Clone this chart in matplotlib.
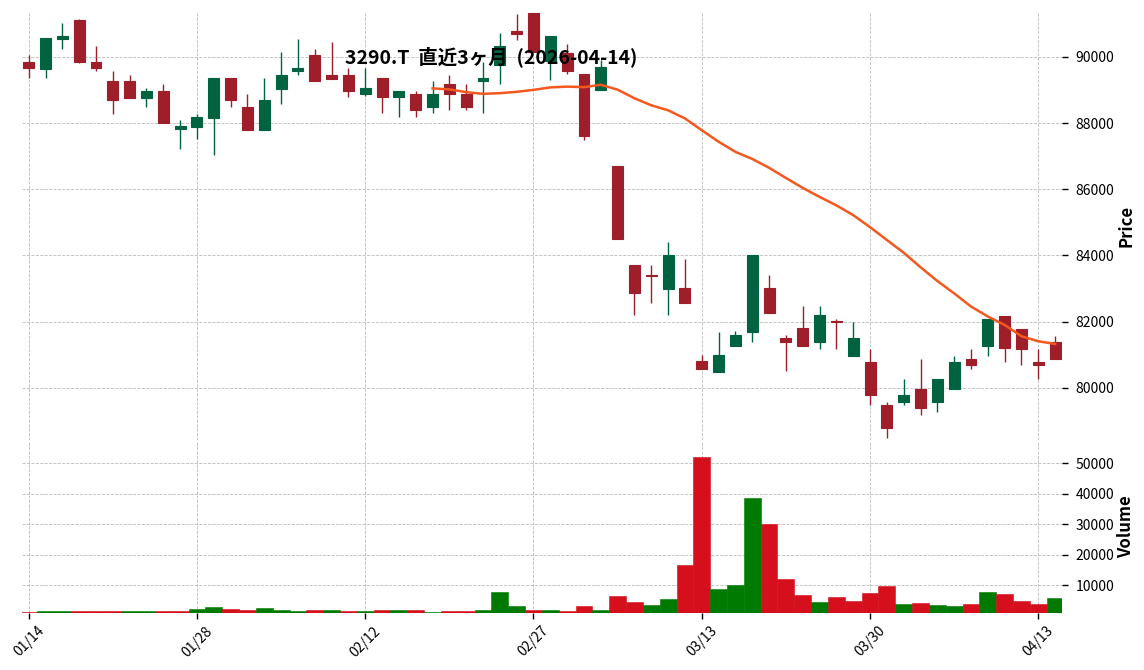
import numpy as np
import pandas as pd
import matplotlib
matplotlib.use('Agg')
import matplotlib.pyplot as plt

plt.rcParams['font.family'] = ['Noto Sans CJK JP', 'DejaVu Sans']

TITLE = '3290.T  直近3ヶ月  (2026-04-14)'
START, END = '2026-01-14', '2026-04-14'
HOLIDAYS = ['2026-02-11', '2026-02-23', '2026-03-20']

opens = [89860, 89650, 90535, 91130, 89860, 89280, 89280, 88770, 88980, 87810,
         87890, 88170, 89370, 88495, 87800, 89040, 89566, 90070, 89465, 89465,
         88869, 89374, 88778, 88889, 88475, 89192, 88889, 89273, 89748, 90798,
         91320, 89889, 90121, 89495, 88990, 86707, 83707, 83400, 82990, 83010,
         80798, 80475, 81263, 81677, 83010, 81495, 81798, 81384, 82010, 80960,
         80788, 79485, 79556, 79970, 79556, 79950, 80879, 81253, 82182, 81788,
         80788, 81394]
highs = [90070, 90560, 91030, 91150, 90333, 89590, 89450, 89060, 89180, 88090,
         88290, 89370, 89370, 88880, 89364, 90150, 90545, 90242, 90444, 89657,
         89657, 89374, 88980, 88980, 89283, 89455, 89182, 89849, 90727, 91303,
         91320, 90626, 90394, 89495, 89900, 86707, 83707, 83697, 84404, 83889,
         80980, 81697, 81707, 84010, 83394, 81586, 82485, 82485, 82091, 82000,
         81172, 79556, 80263, 80869, 80273, 80970, 81172, 82091, 82182, 81788,
         81172, 81566]
lows = [89350, 89350, 90240, 89830, 89566, 88290, 88770, 88485, 87990, 87210,
        87515, 87030, 88485, 87800, 87800, 88575, 89455, 89263, 89343, 88788,
        88808, 88303, 88182, 88182, 88303, 88394, 88394, 88303, 89182, 90525,
        90150, 89313, 89495, 87495, 88990, 84485, 82192, 82576, 82192, 82556,
        80566, 80475, 81263, 81394, 82263, 80495, 81263, 81182, 81182, 80960,
        79475, 78475, 79475, 79182, 79263, 79950, 80576, 80970, 80788, 80687,
        80263, 80859]
closes = [89660, 90560, 90646, 89840, 89657, 88690, 88770, 88980, 87990, 87920,
          88190, 89370, 88690, 87800, 88707, 89465, 89677, 89263, 89343, 88960,
          89071, 88778, 88980, 88384, 88889, 88869, 88475, 89374, 90343, 90697,
          90150, 90626, 89586, 87596, 89707, 84485, 82869, 83390, 84010, 82556,
          80566, 80980, 81586, 84010, 82263, 81384, 81263, 82192, 81990, 81495,
          79768, 78768, 79788, 79374, 80273, 80788, 80677, 82091, 81190, 81160,
          80677, 80859]
volumes = [1250, 1580, 1580, 1580, 1580, 1580, 1580, 1580, 1580, 1580,
           2240, 2900, 2240, 1910, 2570, 1910, 1580, 1910, 1910, 1580,
           1580, 1910, 1910, 1910, 1250, 1580, 1580, 1910, 7800, 3220,
           1910, 1910, 1580, 3220, 1910, 6500, 4540, 3550, 5520, 16670,
           52080, 8800, 10100, 38640, 30110, 12080, 6830, 4430, 6070, 4750,
           7380, 9670, 3770, 4100, 3440, 3110, 3770, 7700, 7050, 4750,
           3770, 5740]
prev_close = 89900
MAV = 25

UP, DOWN = '#006340', '#9e1f2a'
VUP, VDOWN = '#007a00', '#d50f1b'
MA_COLOR = '#f4581e'

dates = pd.bdate_range(START, END)
dates = dates[~dates.isin(pd.to_datetime(HOLIDAYS))]
df = pd.DataFrame({'Open': opens, 'High': highs, 'Low': lows,
                   'Close': closes, 'Volume': volumes}, index=dates)
x = np.arange(len(df))
ma = df['Close'].rolling(MAV).mean()

fig = plt.figure(figsize=(11.44, 6.70), dpi=100)
ax = fig.add_axes([0.0192, 0.3433, 0.909, 0.6388])
axv = fig.add_axes([0.0192, 0.0855, 0.909, 0.2563], sharex=ax)

# candles
up = df['Close'] >= df['Open']
ccol = np.where(up, UP, DOWN)
ax.vlines(x, df['Low'], df['High'], colors=ccol, linewidth=1.0, zorder=2)
body_lo = np.minimum(df['Open'], df['Close'])
body_h = (df['Close'] - df['Open']).abs()
ax.bar(x, body_h, bottom=body_lo, width=0.65, color=ccol,
       edgecolor=ccol, linewidth=0.8, zorder=3)
ax.plot(x, ma, color=MA_COLOR, linewidth=1.8, zorder=4)

# volume, coloured against the previous close
pc = df['Close'].shift(1).fillna(prev_close)
vcol = np.where(df['Close'] >= pc, VUP, VDOWN)
axv.bar(x, df['Volume'], width=1.0, color=vcol, edgecolor=vcol,
        linewidth=0.4, zorder=3)

for a in (ax, axv):
    for s in a.spines.values():
        s.set_visible(False)
    a.yaxis.tick_right()
    a.yaxis.set_label_position('right')
    a.grid(True, linestyle='--', linewidth=0.6, color='#bbbbbb', zorder=0)
    a.set_axisbelow(True)
    a.tick_params(axis='y', length=4, width=1, labelsize=10, pad=6)

ax.set_xlim(-0.4, len(df) - 0.6)
ax.set_ylim(78420, 91360)
ax.set_yticks(np.arange(80000, 90001, 2000))
ax.tick_params(axis='x', length=0, labelbottom=False)
ax.set_ylabel('Price', fontsize=12, fontweight='bold', labelpad=2)

axv.set_ylim(1000, 1.1 * df['Volume'].max())
axv.set_yticks(np.arange(10000, 50001, 10000))
ticks = x[::10]
axv.set_xticks(ticks)
axv.set_xticklabels([d.strftime('%m/%d') for d in df.index[ticks]],
                    rotation=45, fontsize=10)
axv.tick_params(axis='x', length=4, width=1, pad=4)
axv.set_ylabel('Volume', fontsize=12, fontweight='bold', labelpad=2)

fig.text(0.429, 0.916, TITLE, ha='center', va='center',
         fontsize=14, fontweight='bold')

fig.savefig('out.png', dpi=100)
